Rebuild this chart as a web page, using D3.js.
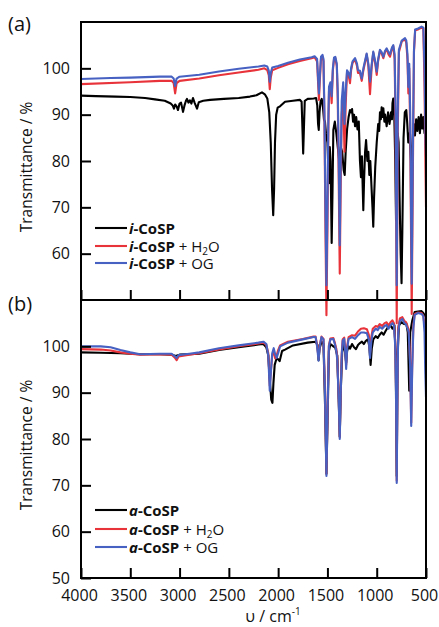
<!DOCTYPE html>
<html>
<head>
<meta charset="utf-8">
<script src="https://cdn.jsdelivr.net/npm/d3@7"></script>
<style>
  html, body { margin: 0; padding: 0; background: #fff; }
  svg { display: block; font-family: "Open Sans", "Noto Sans", sans-serif; }
</style>
</head>
<body>
<svg id="chart" width="439" height="627"></svg>
<script>
// wavenumber (cm-1), transmittance (%)
var iCoSP = [
  [4000, 94.1], [3850, 94.0], [3650, 93.9], [3500, 93.8], [3350, 93.6], [3250, 93.3], [3150, 93.0],
  [3090, 92.4], [3070, 92.0], [3057, 91.3], [3045, 92.2], [3030, 91.8], [3016, 91.0], [3000, 92.4],
  [2985, 92.6], [2965, 90.6], [2950, 92.0], [2935, 93.0], [2925, 93.4], [2910, 92.6], [2895, 93.1],
  [2880, 92.4], [2864, 93.6], [2848, 92.6], [2823, 91.3], [2805, 92.7], [2760, 93.0], [2690, 93.2],
  [2550, 93.4], [2400, 93.6], [2286, 93.9], [2220, 94.2], [2164, 94.8], [2135, 94.4], [2110, 93.5],
  [2090, 90.5], [2075, 84], [2062, 74], [2050, 68.3], [2041, 74], [2032, 84], [2020, 90], [2005, 91.5],
  [1981, 91.8], [1930, 92.8], [1850, 93.0], [1780, 93.2], [1762, 92.8], [1752, 86], [1746, 81.6],
  [1740, 86], [1730, 93.0], [1700, 93.4], [1640, 93.5], [1615, 93.6], [1603, 92.0], [1595, 88],
  [1588, 86.7], [1580, 90.5], [1570, 92.8], [1558, 93.4], [1545, 91.5], [1535, 89], [1525, 88.5],
  [1515, 86], [1500, 84], [1490, 78], [1484, 75.2], [1476, 83], [1468, 80], [1457, 62.3], [1448, 74],
  [1440, 86.7], [1425, 88.5], [1410, 86], [1395, 83], [1380, 80], [1365, 83], [1350, 82], [1335, 78],
  [1325, 77], [1315, 82], [1300, 87], [1285, 89.5], [1271, 91], [1260, 90.5], [1250, 91.2], [1240, 88.5],
  [1230, 90], [1220, 87.5], [1208, 89.5], [1195, 86.8], [1182, 88.5], [1170, 80], [1160, 76.5],
  [1150, 81], [1143, 75], [1136, 69.4], [1128, 76], [1118, 82], [1108, 84.5], [1095, 80], [1085, 82],
  [1075, 77], [1065, 80], [1052, 74], [1043, 70], [1035, 65.8], [1027, 72], [1015, 78.7], [1000, 84],
  [985, 88], [975, 86.5], [967, 90.5], [958, 89], [950, 91.6], [940, 89.5], [933, 91.4], [922, 88.5],
  [915, 90], [899, 87.5], [885, 90.5], [870, 88], [855, 90.5], [845, 89], [840, 92.5], [832, 93.5],
  [822, 90], [812, 80], [804, 67.2], [796, 78], [787, 86], [778, 84], [768, 72], [757, 60], [748, 53.6],
  [740, 65], [728, 85], [715, 90.5], [700, 91], [690, 88], [680, 84], [668, 86], [658, 82], [648, 79],
  [638, 84], [625, 88], [612, 85.5], [600, 89], [588, 86.5], [575, 89.5], [562, 86], [550, 90],
  [538, 87], [527, 89.5], [515, 86], [505, 88], [500, 87]
];

var iCoSPWater = [
  [4000, 96.6], [3500, 97.0], [3200, 97.3], [3080, 97.3], [3060, 96.8], [3045, 94.6], [3030, 96.8],
  [3000, 97.3], [2800, 97.8], [2600, 98.5], [2400, 99.1], [2200, 99.7], [2140, 100.0], [2110, 99.6],
  [2095, 98.5], [2085, 95.5], [2075, 98], [2060, 99.6], [2000, 100.1], [1900, 100.9], [1780, 101.6],
  [1660, 102.2], [1630, 102.4], [1605, 101.5], [1595, 97], [1586, 93.2], [1578, 97], [1565, 102.2],
  [1550, 102.6], [1540, 101.5], [1530, 88], [1520, 65], [1510, 46.7], [1500, 65], [1490, 88],
  [1484, 95], [1470, 96.5], [1457, 92.5], [1445, 99.5], [1433, 102], [1420, 102.2], [1405, 100.5],
  [1395, 93], [1385, 75], [1375, 55.7], [1365, 75], [1355, 90], [1340, 94], [1327, 82], [1315, 92],
  [1301, 99.2], [1285, 98.5], [1271, 96.8], [1260, 99.5], [1245, 101.2], [1220, 101.9], [1200, 100.5],
  [1190, 99], [1170, 99], [1152, 97.3], [1135, 99.6], [1102, 103], [1085, 100.5], [1068, 94.4],
  [1050, 100.6], [1035, 103.4], [1015, 101], [1000, 98.6], [985, 101.7], [967, 103.8], [950, 103.2],
  [933, 102.2], [915, 103.6], [899, 104.1], [880, 103], [865, 102.5], [845, 104.3], [832, 104.8],
  [818, 102], [808, 85], [797, 45], [787, 85], [775, 103.5], [746, 105.8], [713, 106.3], [700, 105.5],
  [688, 102], [679, 94.6], [670, 100], [660, 85], [645, 47], [632, 80], [622, 103.5], [610, 108.2],
  [580, 108.4], [545, 108.8], [527, 108.6], [515, 96], [505, 78], [500, 70]
];

var iCoSPOG = [
  [4000, 97.7], [3700, 97.9], [3500, 98.0], [3200, 98.2], [3080, 98.2], [3060, 97.8], [3045, 96.2],
  [3030, 97.8], [3000, 98.2], [2800, 98.6], [2600, 99.3], [2400, 99.9], [2200, 100.4], [2140, 100.6],
  [2110, 100.4], [2095, 99.5], [2085, 97.1], [2075, 99], [2060, 100.2], [2000, 100.5], [1900, 101.2],
  [1780, 101.9], [1660, 102.4], [1630, 102.6], [1605, 102], [1595, 98], [1586, 94.6], [1578, 98],
  [1565, 102.5], [1550, 102.9], [1540, 102], [1530, 90], [1520, 70], [1510, 53.2], [1500, 70],
  [1490, 90], [1484, 96], [1470, 97], [1457, 94], [1445, 100], [1433, 102.3], [1420, 102.5],
  [1405, 101], [1395, 95], [1385, 80], [1375, 61.8], [1365, 80], [1355, 93], [1340, 97], [1327, 88],
  [1315, 95], [1301, 99.6], [1285, 99], [1271, 97.9], [1260, 100], [1245, 101.5], [1220, 102.2],
  [1200, 101], [1190, 99.6], [1170, 99.5], [1152, 97.8], [1135, 100], [1102, 103.2], [1085, 101],
  [1068, 97.1], [1050, 101], [1035, 103.6], [1015, 101.5], [1000, 99.3], [985, 102], [967, 104],
  [950, 103.5], [933, 102.5], [915, 103.8], [899, 104.3], [880, 103.5], [865, 103], [845, 104.5],
  [832, 105], [818, 103], [808, 90], [797, 53.2], [787, 90], [775, 104], [746, 106], [713, 106.5],
  [700, 106], [688, 103], [679, 96], [670, 101], [660, 90], [645, 53.5], [632, 85], [622, 104],
  [610, 108.4], [580, 108.6], [545, 109], [527, 108.8], [515, 100], [505, 85], [500, 81]
];

var aCoSP = [
  [4000, 98.7], [3800, 98.6], [3600, 98.5], [3400, 98.3], [3200, 98.3], [3080, 98.2], [3040, 97.9],
  [3000, 98.2], [2800, 98.4], [2600, 99.2], [2400, 99.8], [2200, 100.4], [2150, 100.5], [2120, 99.8],
  [2100, 98], [2085, 93], [2070, 88.5], [2058, 87.8], [2048, 92], [2035, 96], [2015, 97.5], [2000, 97.2],
  [1985, 96.8], [1960, 99], [1930, 99.3], [1850, 100.2], [1700, 100.8], [1620, 101], [1600, 100.3],
  [1590, 97], [1580, 99.5], [1560, 101], [1540, 100.5], [1525, 88], [1510, 72.5], [1495, 88], [1485, 99],
  [1470, 100.5], [1440, 100], [1420, 99.7], [1400, 98], [1385, 88], [1375, 80.5], [1365, 90], [1350, 99],
  [1335, 100.5], [1320, 98.5], [1310, 96.5], [1300, 99], [1285, 100], [1270, 99.5], [1250, 100.5],
  [1230, 99.8], [1210, 99.4], [1190, 100.3], [1170, 100.7], [1150, 101], [1130, 100.5], [1110, 101.2],
  [1090, 101.5], [1075, 100], [1062, 96], [1050, 99.5], [1035, 101.5], [1010, 102.2], [990, 101.8],
  [970, 102.5], [950, 103], [930, 102.5], [910, 103.3], [890, 104], [860, 104.5], [840, 103.8],
  [820, 104.5], [808, 98], [797, 72], [788, 98], [775, 104.5], [750, 105.2], [720, 104.8], [700, 105],
  [685, 103], [670, 90.4], [660, 103], [640, 105.5], [615, 107.4], [580, 107.5], [545, 107.6],
  [527, 107.2], [510, 106.6], [500, 106.4]
];

var aCoSPWater = [
  [4000, 99.4], [3800, 99.3], [3700, 99.1], [3600, 98.7], [3500, 98.4], [3400, 98.2], [3200, 98.3],
  [3080, 98.2], [3050, 97.6], [3030, 97.0], [3010, 97.8], [2900, 98.2], [2800, 98.5], [2600, 99.3],
  [2400, 100], [2200, 100.6], [2150, 100.8], [2120, 100.3], [2100, 98.5], [2085, 91.5], [2072, 95],
  [2060, 98], [2045, 99], [2030, 97.4], [2015, 98], [2000, 99.2], [1980, 100.2], [1900, 101],
  [1750, 101.6], [1640, 102.1], [1620, 102.1], [1605, 100.3], [1590, 97.5], [1578, 100.2],
  [1560, 102.1], [1540, 101.6], [1525, 90.5], [1510, 72.5], [1495, 90.5], [1485, 100.2], [1470, 101.7],
  [1440, 101.8], [1425, 100.8], [1410, 99.5], [1400, 97.5], [1385, 88.5], [1375, 80.5], [1365, 90.5],
  [1355, 98.5], [1345, 101.5], [1330, 101.9], [1320, 99.5], [1310, 96], [1300, 100], [1285, 102],
  [1250, 102.4], [1220, 102.3], [1190, 103.2], [1160, 103.8], [1130, 103.9], [1100, 103.7],
  [1080, 102.5], [1068, 98.5], [1055, 102], [1040, 103.8], [1010, 104.4], [990, 104.2], [970, 104.8],
  [945, 104.4], [920, 105], [900, 105.2], [880, 104.5], [860, 105.2], [840, 105.6], [825, 105],
  [812, 101], [804, 91], [797, 71], [790, 91], [782, 104], [765, 106], [740, 106.3], [720, 105.5],
  [705, 105.3], [690, 104.5], [675, 103.5], [660, 96], [650, 83.5], [640, 96], [628, 104.5], [615, 107],
  [580, 107.3], [545, 107.2], [527, 106.6], [515, 104.5], [505, 103.5], [500, 103.4]
];

var aCoSPOG = [
  [4000, 100.0], [3800, 100.0], [3700, 99.8], [3600, 99.2], [3500, 98.7], [3400, 98.3], [3200, 98.4],
  [3080, 98.4], [3050, 97.9], [3030, 97.5], [3010, 98.1], [2900, 98.4], [2800, 98.7], [2600, 99.6],
  [2400, 100.2], [2200, 100.8], [2150, 101], [2120, 100.5], [2100, 98], [2085, 90.4], [2072, 95],
  [2060, 98.5], [2045, 99.6], [2030, 98.3], [2015, 97.5], [2000, 98.5], [1980, 100], [1900, 100.8],
  [1750, 101.5], [1640, 102], [1620, 102], [1605, 100], [1590, 96.9], [1578, 100], [1560, 102],
  [1540, 101.5], [1525, 90], [1510, 72], [1495, 90], [1485, 100], [1470, 101.5], [1440, 101.6],
  [1425, 100.5], [1410, 99], [1400, 97], [1385, 88], [1375, 80], [1365, 90], [1355, 98], [1345, 101.2],
  [1330, 101.6], [1320, 99], [1310, 95.1], [1300, 99.5], [1285, 101.6], [1250, 102], [1220, 101.6],
  [1190, 102.4], [1160, 103], [1130, 103], [1100, 102.8], [1080, 101.5], [1068, 97.5], [1055, 101],
  [1040, 103], [1010, 103.8], [990, 103.5], [970, 104.2], [945, 103.8], [920, 104.4], [900, 104.6],
  [880, 103.8], [860, 104.6], [840, 105], [825, 104.5], [812, 100], [804, 90], [797, 70.5], [790, 90],
  [782, 103], [765, 105.5], [740, 105.9], [720, 105], [705, 104.8], [690, 104], [675, 103], [660, 95],
  [650, 82.8], [640, 95], [628, 104], [615, 106.8], [580, 107.2], [545, 107], [527, 106.5], [515, 103],
  [508, 95], [500, 89]
];

var xTicks = [4000, 3500, 3000, 2500, 2000, 1500, 1000, 500];
var yTicksTop = [60, 70, 80, 90, 100];
var yTicksBottom = [50, 60, 70, 80, 90, 100];
var seriesColors = ["#000000", "#e8333a", "#4761c2"];

(function () {
  "use strict";

  var svg = d3.select("#chart");
  var left = 81, right = 426;

  var x = d3.scaleLinear().domain([4000, 500]).range([left, right]);

  var panels = [
    { top: 22, bottom: 300, label: "(a)", labelY: 31, ticks: yTicksTop, prefix: "i",
      series: [iCoSP, iCoSPWater, iCoSPOG], legendY: [228, 246, 263], axisLabelY: 167, showX: false },
    { top: 300, bottom: 578, label: "(b)", labelY: 311, ticks: yTicksBottom, prefix: "a",
      series: [aCoSP, aCoSPWater, aCoSPOG], legendY: [510, 529, 547], axisLabelY: 445, showX: true }
  ];

  panels.forEach(function (p) {
    var y = d3.scaleLinear().domain([50, 110]).range([p.bottom, p.top]);
    var g = svg.append("g");

    var line = d3.line()
      .x(function (d) { return x(d[0]); })
      .y(function (d) { return y(d[1]); });

    p.series.forEach(function (data, i) {
      g.append("path")
        .datum(data)
        .attr("d", line)
        .attr("fill", "none")
        .attr("stroke", seriesColors[i])
        .attr("stroke-width", 2.1)
        .attr("stroke-linejoin", "round");
    });

    var yAxis = d3.axisLeft(y).tickValues(p.ticks).tickSizeInner(-10).tickSizeOuter(0).tickPadding(11);
    var ya = g.append("g").attr("transform", "translate(" + left + ",0)").call(yAxis);
    ya.select(".domain").remove();
    ya.selectAll("line").attr("stroke-width", 2);
    ya.selectAll("text").attr("font-size", 16).attr("font-family", "Open Sans, sans-serif").attr("fill", "#111");

    var xAxis = d3.axisBottom(x).tickValues(xTicks).tickSizeInner(-10).tickSizeOuter(0).tickPadding(12)
      .tickFormat(p.showX ? d3.format("d") : "");
    var xa = g.append("g").attr("transform", "translate(0," + p.bottom + ")").call(xAxis);
    xa.select(".domain").remove();
    xa.selectAll("line").attr("stroke-width", 2);
    xa.selectAll("text").attr("font-size", 16).attr("font-family", "Open Sans, sans-serif")
      .attr("fill", "#111").attr("dx", -2);

    g.append("rect")
      .attr("x", left).attr("y", p.top)
      .attr("width", right - left).attr("height", p.bottom - p.top)
      .attr("fill", "none").attr("stroke", "#000").attr("stroke-width", 2);

    svg.append("text")
      .attr("x", 8).attr("y", p.labelY)
      .attr("font-size", 20).attr("fill", "#111")
      .text(p.label);

    svg.append("text")
      .attr("transform", "translate(32," + p.axisLabelY + ") rotate(-90)")
      .attr("text-anchor", "middle")
      .attr("font-size", 15.5).attr("fill", "#111")
      .text("Transmittance / %");

    p.legendY.forEach(function (ly, i) {
      svg.append("line")
        .attr("x1", 95).attr("x2", 127).attr("y1", ly).attr("y2", ly)
        .attr("stroke", seriesColors[i]).attr("stroke-width", 2.1);
      var t = svg.append("text").attr("x", 129).attr("y", ly + 5.5)
        .attr("font-size", 15).attr("fill", "#111");
      t.append("tspan").attr("font-weight", "bold").attr("font-style", "italic").text(p.prefix);
      t.append("tspan").attr("font-weight", "bold").text("-CoSP");
      if (i === 1) {
        t.append("tspan").text(" + H");
        t.append("tspan").attr("font-size", 10).attr("dy", 3).text("2");
        t.append("tspan").attr("dy", -3).text("O");
      } else if (i === 2) {
        t.append("tspan").text(" + OG");
      }
    });
  });

  var xl = svg.append("text")
    .attr("x", 273).attr("y", 622)
    .attr("text-anchor", "middle")
    .attr("font-size", 16).attr("fill", "#111");
  xl.append("tspan").text("\u03c5 / cm");
  xl.append("tspan").attr("font-size", 10).attr("dy", -7).text("-1");
})();
</script>
</body>
</html>
